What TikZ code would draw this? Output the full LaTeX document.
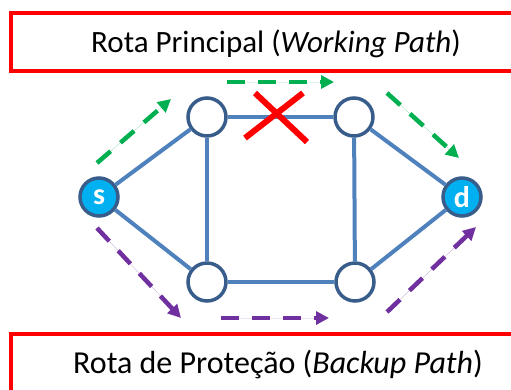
\documentclass[tikz,border=0pt]{standalone}
\usepackage{fontspec}
\setmainfont{Carlito}
\usepackage{tikz}
\usetikzlibrary{arrows.meta}

\definecolor{edgeblue}{HTML}{4F81BD}
\definecolor{nodeblue}{HTML}{385D8A}
\definecolor{srccyan}{HTML}{00B0F0}
\definecolor{workgreen}{HTML}{00B050}
\definecolor{backpurple}{HTML}{7030A0}

\begin{document}
\begin{tikzpicture}[x=1pt, y=-1pt,
		node_style/.style={circle,draw=nodeblue,line width=3.5pt,fill=white,minimum size=38pt,inner sep=0pt},
		end_style/.style={node_style,fill=srccyan,text=white,font=\bfseries\fontsize{30}{30}\selectfont},
		edge_style/.style={draw=edgeblue,line width=4pt},
		box_style/.style={draw=red,line width=3.5pt},
		work_style/.style={draw=workgreen,line width=4.5pt,dash pattern=on 18pt off 13pt,-{Triangle[length=13pt,width=13pt]}},
		backup_style/.style={work_style,draw=backpurple,fill=backpurple},
		cut_style/.style={draw=red,line width=6pt}]
		
		\useasboundingbox (0,0) rectangle (511,389);
		
		% caixas
		\draw[box_style] (520,13) -- (11,13) -- (11,71) -- (520,71);
		\draw[box_style] (520,334) -- (11,334) -- (11,400);
		\node (top_text) at (276,44) {\fontsize{31}{31}\selectfont Rota Principal (\textit{Working Path})};
		\node (bot_text) at (278,364) {\fontsize{32}{32}\selectfont Rota de Proteção (\textit{Backup Path})};
		
		% rede
		\node[end_style] (s) at (99,197) {s};
		\node[node_style] (n1) at (207,117) {};
		\node[node_style] (n2) at (354,117) {};
		\node[end_style] (d) at (462,197) {d};
		\node[node_style] (n3) at (207,282) {};
		\node[node_style] (n4) at (355,282) {};
		
		\draw[edge_style]  (s) edge (n1);
		\draw[edge_style]  (s) edge (n3);
		\draw[edge_style]  (n1) edge (n2);
		\draw[edge_style]  (n1) edge (n3);
		\draw[edge_style]  (n2) edge (n4);
		\draw[edge_style]  (n3) edge (n4);
		\draw[edge_style]  (n2) edge (d);
		\draw[edge_style]  (n4) edge (d);
		
		% falha
		\coordinate (x1) at (255,93);
		\coordinate (x2) at (307,142);
		\coordinate (x3) at (303,93);
		\coordinate (x4) at (245,138);
		\draw[cut_style] (x1) -- (x2);
		\draw[cut_style] (x3) -- (x4);
		
		% rota principal
		\coordinate (w0) at (97,163);
		\coordinate (w1) at (171,99);
		\coordinate (w2) at (227,82);
		\coordinate (w3) at (334,82);
		\coordinate (w4) at (387,93);
		\coordinate (w5) at (459,158);
		\draw[work_style,fill=workgreen] (w0) -- (w1);
		\draw[work_style,fill=workgreen] (w2) -- (w3);
		\draw[work_style,fill=workgreen] (w4) -- (w5);
		
		% rota de protecao
		\coordinate (b0) at (97,228);
		\coordinate (b1) at (181,318);
		\coordinate (b2) at (221,318);
		\coordinate (b3) at (329,318);
		\coordinate (b4) at (387,312);
		\coordinate (b5) at (476,227);
		\draw[backup_style] (b0) -- (b1);
		\draw[backup_style] (b2) -- (b3);
		\draw[backup_style] (b4) -- (b5);
		
\end{tikzpicture}
\end{document}
